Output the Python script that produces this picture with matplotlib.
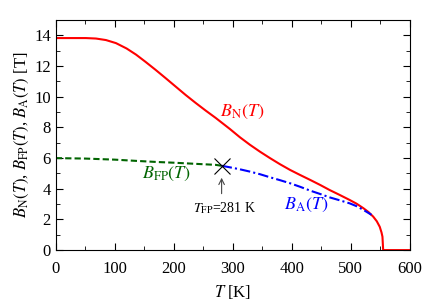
import numpy as np
import matplotlib
matplotlib.use("Agg")
import matplotlib.pyplot as plt
from matplotlib.ticker import MultipleLocator

plt.rcParams['font.family'] = ['Liberation Serif', 'DejaVu Serif']
plt.rcParams['mathtext.fontset'] = 'stix'

# --- data ---
T_N = [0, 30, 51, 68, 85, 102, 120, 136, 152, 169, 186, 203, 220, 237, 254, 271, 295, 312, 329,
       346, 363, 380, 397, 414, 431, 448, 464, 481, 498, 510, 521, 530, 538, 544, 549, 552, 553.6, 554.8, 570, 600]
B_N = [13.83, 13.83, 13.83, 13.8, 13.7, 13.5, 13.15, 12.75, 12.28, 11.76, 11.22, 10.67, 10.12, 9.6, 9.1, 8.62, 7.9, 7.36, 6.87,
       6.42, 6.0, 5.6, 5.23, 4.9, 4.58, 4.25, 3.92, 3.6, 3.27, 3.02, 2.74, 2.48, 2.18, 1.88, 1.52, 1.15, 0.87, 0.0, 0.0, 0.0]

T_FP = [0, 50, 100, 136, 170, 200, 240, 271, 281]
B_FP = [6.0, 5.97, 5.9, 5.82, 5.75, 5.7, 5.62, 5.56, 5.5]

T_A = [281, 295, 312, 329, 346, 363, 380, 397, 414, 431, 448, 464, 481, 498, 510, 521, 535]
B_A = [5.5, 5.4, 5.27, 5.12, 4.95, 4.75, 4.56, 4.36, 4.13, 3.88, 3.66, 3.44, 3.25, 3.05, 2.86, 2.63, 2.3]

T_CROSS = 281
B_CROSS = 5.5

fig = plt.figure(figsize=(4.36, 3.05), dpi=100)
ax = fig.add_axes([0.128, 0.180, 0.812, 0.754])

ax.plot(T_N, B_N, color='red', lw=1.5)
ax.plot(T_FP, B_FP, color='#006400', lw=1.5, ls=(0, (3, 1.5)))
ax.plot(T_A, B_A, color='blue', lw=1.5, ls=(0, (5, 1.5, 1, 1.5)))
ax.plot([T_CROSS], [B_CROSS], marker='x', color='black', ms=12, mew=0.8)

ax.annotate('', xy=(T_CROSS, 4.9), xytext=(T_CROSS, 3.5),
            arrowprops=dict(arrowstyle='->', color='#444444', lw=0.8))
ax.text(286, 2.75, r'$T_{\rm FP}$=281 K', ha='center', va='center', fontsize=10)

ax.text(315, 9.0, r'$B_{\rm N}(T)$', color='red', ha='center', va='center', fontsize=13)
ax.text(188, 5.0, r'$B_{\rm FP}(T)$', color='#006400', ha='center', va='center', fontsize=13)
ax.text(425, 2.95, r'$B_{\rm A}(T)$', color='blue', ha='center', va='center', fontsize=13)

ax.set_xlim(0, 600)
ax.set_ylim(0, 15)
ax.xaxis.set_major_locator(MultipleLocator(100))
ax.xaxis.set_minor_locator(MultipleLocator(50))
ax.yaxis.set_major_locator(MultipleLocator(2))
ax.yaxis.set_minor_locator(MultipleLocator(1))
ax.tick_params(which='both', direction='in', top=True, right=True, labelsize=12)
ax.tick_params(which='major', length=5)
ax.tick_params(which='minor', length=3)
ax.tick_params(axis='x', pad=8)

ax.set_xlabel(r'$T$ [K]', fontsize=12)
ax.set_ylabel(r'$B_{\rm N}(T)$, $B_{\rm FP}(T)$, $B_{\rm A}(T)$ [T]', fontsize=12, labelpad=2)

fig.savefig('out.png', dpi=100)
